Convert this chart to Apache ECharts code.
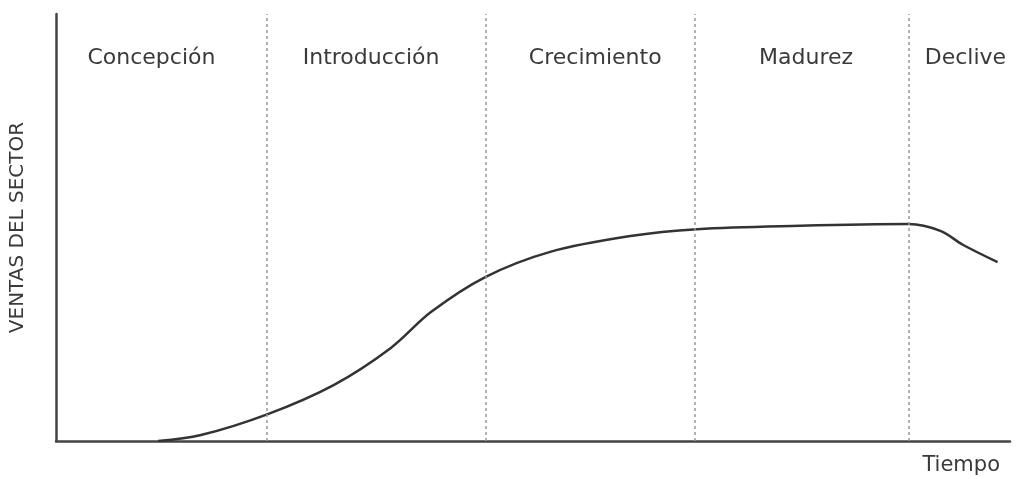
<!DOCTYPE html>
<html><head><meta charset="utf-8">
<script src="https://cdn.jsdelivr.net/npm/echarts@6/dist/echarts.min.js"></script>
<style>html,body{margin:0;padding:0;background:#fff}#c{width:1017px;height:479px}</style>
</head><body><div id="c"></div>
<script>
// Phase names and boundaries (time units, 0–100)
const phases = ['Concepción', 'Introducción', 'Crecimiento', 'Madurez', 'Declive'];
const boundaries = [0, 22.1, 45.0, 67.0, 89.4, 100];
// Sales curve (time, sales)
const tiempo = [10.7, 15.2, 22.2, 29.1, 35.1, 39.3, 45.0, 51.8, 60.2, 67.2, 78.0, 89.4, 92.7, 95.1, 98.7];
const ventas = [0, 1.4, 6.3, 13.1, 21.8, 30.2, 38.4, 44.3, 48.0, 49.6, 50.4, 50.8, 49.2, 45.9, 41.9];

// label nudges (style only)
const labelOffsetX = [-10, -5, 5, 4, 6];

const chart = echarts.init(document.getElementById('c'), null, {renderer: 'canvas'});
const font = 'DejaVu Sans, Verdana, sans-serif';
const areas = phases.map((p, i) => [
  {xAxis: boundaries[i], name: p, label: {offset: [labelOffsetX[i], 0]}},
  {xAxis: boundaries[i + 1]}
]);
const lines = boundaries.slice(1, -1).map(b => ({xAxis: b}));
chart.setOption({
  animation: false,
  grid: {left: 55, right: 7, top: 14, bottom: 38},
  xAxis: {
    type: 'value', min: 0, max: 100,
    name: 'Tiempo', nameLocation: 'end', nameGap: 0,
    nameTextStyle: {fontFamily: font, fontSize: 21, color: '#3a3a3a', align: 'right', verticalAlign: 'top', padding: [14, 10, 0, 0]},
    axisLine: {lineStyle: {color: '#444', width: 2.5}},
    axisTick: {show: false}, axisLabel: {show: false}, splitLine: {show: false}
  },
  yAxis: {
    type: 'value', min: 0, max: 100,
    name: 'VENTAS DEL SECTOR', nameLocation: 'middle', nameRotate: 90, nameGap: 28,
    nameTextStyle: {fontFamily: font, fontSize: 20, color: '#3a3a3a'},
    axisLine: {show: true, lineStyle: {color: '#444', width: 2.5}},
    axisTick: {show: false}, axisLabel: {show: false}, splitLine: {show: false}
  },
  series: [{
    type: 'line',
    data: tiempo.map((t, i) => [t, ventas[i]]),
    smooth: 0.35, showSymbol: false,
    lineStyle: {color: '#333', width: 2.5},
    markLine: {
      silent: true, symbol: ['none', 'none'], label: {show: false},
      lineStyle: {type: [3, 3], color: '#999', width: 1.5},
      data: lines
    },
    markArea: {
      silent: true,
      itemStyle: {color: 'rgba(0,0,0,0)'},
      label: {show: true, position: 'insideTop', distance: 33, fontFamily: font, fontSize: 22, color: '#3a3a3a'},
      data: areas
    }
  }]
});
</script></body></html>
